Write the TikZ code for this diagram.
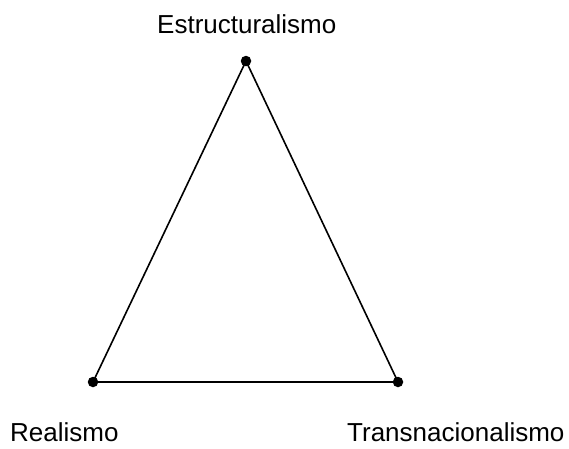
\documentclass[tikz,border=0pt]{standalone}
\usepackage{fontspec}
\setmainfont{Liberation Sans}
\begin{document}
\begin{tikzpicture}[x=1pt,y=-1pt,
  vert/.style={circle,fill=black,inner sep=0pt,minimum size=10.5pt},
  lbl/.style={anchor=base west,inner sep=0pt,font=\fontsize{26}{30}\selectfont},
  edge/.style={line width=1.6pt}]
\useasboundingbox (0,0) rectangle (569,448);
\node[vert] (top) at (246,61) {};
\node[vert] (bl) at (93,382) {};
\node[vert] (br) at (398,382) {};
\draw[edge] (top.center) -- (bl.center) -- (br.center) -- cycle;
\node[lbl] (lt) at (157,33) {Estructuralismo};
\node[lbl] (lbl1) at (10,441.5) {Realismo};
\node[lbl] (lbr) at (347,441.5) {Transnacionalismo};
\end{tikzpicture}
\end{document}
